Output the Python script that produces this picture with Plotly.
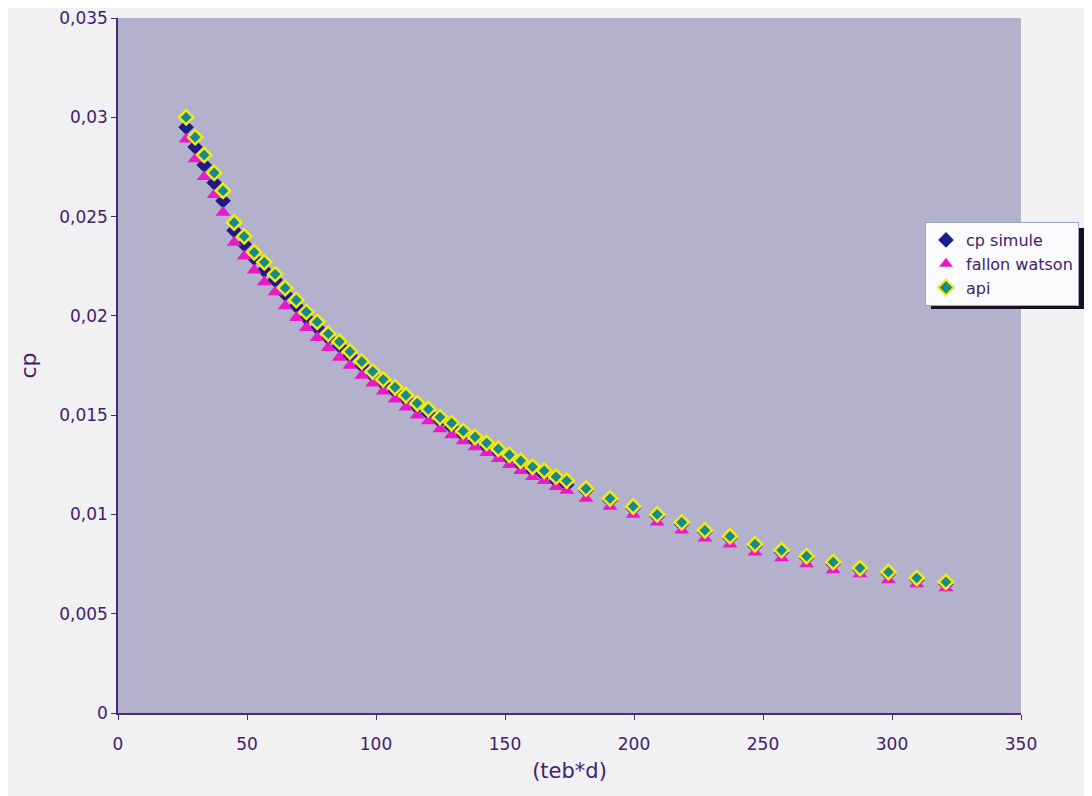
import plotly.graph_objects as go

teb_d = [26.4, 29.9, 33.4, 37.3, 40.7, 45.0, 48.9, 52.8, 56.7, 60.9, 64.8, 69.1, 73.0, 77.2, 81.5,
         85.8, 89.9, 94.5, 98.7, 102.8, 107.4, 111.6, 116.0, 120.3, 124.8, 129.3, 133.8, 138.4,
         142.9, 147.4, 151.7, 156.1, 160.7, 165.2, 169.8, 173.9, 181.4, 190.7, 199.7, 209.0,
         218.5, 227.5, 237.2, 246.9, 257.2, 266.9, 277.2, 287.6, 298.6, 309.6, 320.9]

cp_simule = [0.0295, 0.0285, 0.0276, 0.0267, 0.0258, 0.0243, 0.0236, 0.0229, 0.0223, 0.0218,
             0.0211, 0.0205, 0.0199, 0.0194, 0.0189, 0.0185, 0.0180, 0.0175, 0.0170, 0.0166,
             0.0162, 0.0158, 0.0154, 0.0151, 0.0147, 0.0144, 0.0140, 0.0137, 0.0134, 0.0131,
             0.0128, 0.0125, 0.0122, 0.0120, 0.0117, 0.0115, 0.0112, 0.0107, 0.0103, 0.0099,
             0.0095, 0.0091, 0.0088, 0.0084, 0.0081, 0.0078, 0.0075, 0.0072, 0.0070, 0.0067, 0.0065]

fallon_watson = [0.0289, 0.0279, 0.0270, 0.0261, 0.0252, 0.0237, 0.0230, 0.0223, 0.0217, 0.0212,
                 0.0205, 0.0199, 0.0194, 0.0189, 0.0184, 0.0179, 0.0175, 0.0170, 0.0166, 0.0162,
                 0.0158, 0.0154, 0.0150, 0.0147, 0.0143, 0.0140, 0.0137, 0.0134, 0.0131, 0.0128,
                 0.0125, 0.0122, 0.0119, 0.0117, 0.0114, 0.0112, 0.0108, 0.0104, 0.0100, 0.0096,
                 0.0092, 0.0088, 0.0085, 0.0081, 0.0078, 0.0075, 0.0072, 0.0070, 0.0067, 0.0065, 0.0063]

api = [0.0300, 0.0290, 0.0281, 0.0272, 0.0263, 0.0247, 0.0240, 0.0232, 0.0227, 0.0221,
       0.0214, 0.0208, 0.0202, 0.0197, 0.0191, 0.0187, 0.0182, 0.0177, 0.0172, 0.0168,
       0.0164, 0.0160, 0.0156, 0.0153, 0.0149, 0.0146, 0.0142, 0.0139, 0.0136, 0.0133,
       0.0130, 0.0127, 0.0124, 0.0122, 0.0119, 0.0117, 0.0113, 0.0108, 0.0104, 0.0100,
       0.0096, 0.0092, 0.0089, 0.0085, 0.0082, 0.0079, 0.0076, 0.0073, 0.0071, 0.0068, 0.0066]

y_tickvals = [0, 0.005, 0.01, 0.015, 0.02, 0.025, 0.03, 0.035]
y_ticktext = ["0", "0,005", "0,01", "0,015", "0,02", "0,025", "0,03", "0,035"]
x_tickvals = [0, 50, 100, 150, 200, 250, 300, 350]

TXT = "#43206c"
FONT = "DejaVu Sans, Liberation Sans, Arial, sans-serif"

# page body has an 8px margin; figure placed so the plot area lands at 118..1021 x 18..713
W, H = 1084, 788
L, T = 110, 10
PW, PH = 903, 695

fig = go.Figure()
fig.add_trace(go.Scatter(x=teb_d, y=cp_simule, mode="markers", name="cp simule",
                         marker=dict(symbol="diamond", size=12, color="#1c1c84",
                                     line=dict(width=0))))
fig.add_trace(go.Scatter(x=teb_d, y=fallon_watson, mode="markers", name="fallon watson",
                         marker=dict(symbol="triangle-up", size=13, color="#e81ac8",
                                     line=dict(width=0))))
fig.add_trace(go.Scatter(x=teb_d, y=api, mode="markers", name="api",
                         marker=dict(symbol="diamond", size=11, color="#168a8c",
                                     line=dict(width=2.5, color="#f2e817"))))


def px_x(v):
    return (v - 8 - L) / PW


def px_y(v):
    return (T + PH - (v - 8)) / PH


# legend drop shadow
fig.add_shape(type="rect", xref="paper", yref="paper",
              x0=px_x(931), x1=px_x(1084), y0=px_y(309), y1=px_y(228),
              fillcolor="#1a1020", line=dict(width=0), layer="below")

fig.update_layout(
    width=W, height=H,
    margin=dict(l=L, r=W - L - PW, t=T, b=H - T - PH, pad=0, autoexpand=False),
    paper_bgcolor="#f1f0f3",
    plot_bgcolor="#b4b1cd",
    font=dict(family=FONT, color=TXT, size=16),
    showlegend=True,
    legend=dict(x=px_x(925), y=px_y(222), xanchor="left", yanchor="top",
                bgcolor="#fbfbfd", bordercolor="#9aa6c8", borderwidth=1,
                font=dict(family=FONT, size=16, color=TXT),
                itemsizing="constant", itemwidth=30, tracegroupgap=0),
    xaxis=dict(range=[0, 350], tickvals=x_tickvals, showgrid=False, zeroline=False,
               automargin=False,
               showline=True, linecolor="#4a2a70", linewidth=1.5,
               ticks="outside", ticklen=5, tickcolor="#4a2a70",
               tickfont=dict(size=17, color=TXT), ticklabelstandoff=10,
               ticklabeloverflow="allow",
               title=dict(text="(teb*d)", font=dict(size=21, color=TXT), standoff=10)),
    yaxis=dict(range=[0, 0.035], tickvals=y_tickvals, ticktext=y_ticktext,
               showgrid=False, zeroline=False, automargin=False,
               showline=True, linecolor="#4a2a70", linewidth=1.5,
               ticks="outside", ticklen=5, tickcolor="#4a2a70",
               tickfont=dict(size=17, color=TXT), ticklabeloverflow="allow",
               title=dict(text="cp", font=dict(size=22, color=TXT), standoff=16)),
)

fig.write_html("out.html")
